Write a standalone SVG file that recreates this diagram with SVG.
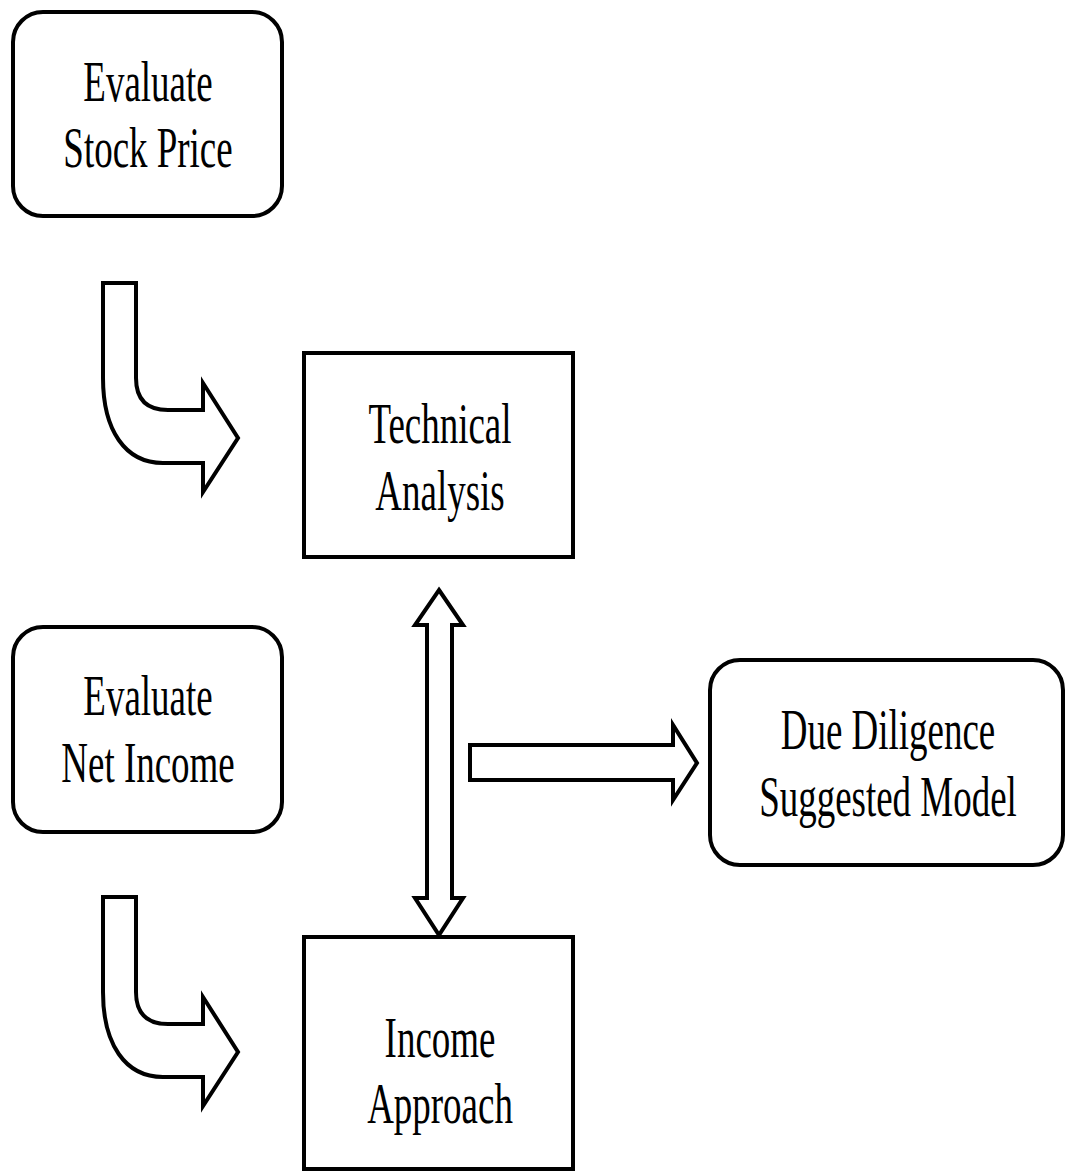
<svg xmlns="http://www.w3.org/2000/svg" width="1066" height="1171" viewBox="0 0 1066 1171">
<style>
.box{fill:#fff;stroke:#000;stroke-width:4}
.arr{fill:#fff;stroke:#000;stroke-width:4;stroke-linejoin:miter}
.t{font-size:56px;fill:#000;text-anchor:middle}
</style>
<rect width="1066" height="1171" fill="#fff"/>
<g id="connectors">
<path class="arr" d="M103,283 L136,283 L136,378 Q136,410 168,410 L203,410 L203,383 L238,438 L203,492 L203,463 L163,463 C125,463 103,430 103,378 Z"/>
<path class="arr" d="M103,897 L136,897 L136,992 Q136,1024 168,1024 L203,1024 L203,997 L238,1052 L203,1106 L203,1077 L163,1077 C125,1077 103,1044 103,992 Z"/>
<path class="arr" d="M439,590 L463,625 L452,625 L452,898 L463,898 L439,935 L415,898 L427,898 L427,625 L415,625 Z"/>
<path class="arr" d="M470,745 L673,745 L673,725 L697,763 L673,800 L673,780 L470,780 Z"/>
</g>
<g font-family="Liberation Serif, DejaVu Serif, serif">
<g id="n1">
<rect class="box" x="13" y="12" width="269" height="204" rx="30"/>
<g transform="translate(148,0) scale(0.66,1)"><text class="t" x="0" y="101">Evaluate</text><text class="t" x="0" y="167">Stock Price</text></g>
</g>
<g id="n2">
<rect class="box" x="304" y="353" width="269" height="204"/>
<g transform="translate(440,0) scale(0.66,1)"><text class="t" x="0" y="443">Technical</text><text class="t" x="0" y="510">Analysis</text></g>
</g>
<g id="n3">
<rect class="box" x="13" y="627" width="269" height="205" rx="30"/>
<g transform="translate(148,0) scale(0.66,1)"><text class="t" x="0" y="715">Evaluate</text><text class="t" x="0" y="782">Net Income</text></g>
</g>
<g id="n4">
<rect class="box" x="710" y="660" width="353" height="205" rx="30"/>
<g transform="translate(888,0) scale(0.66,1)"><text class="t" x="0" y="749">Due Diligence</text><text class="t" x="0" y="816">Suggested Model</text></g>
</g>
<g id="n5">
<rect class="box" x="304" y="937" width="269" height="232"/>
<g transform="translate(440,0) scale(0.66,1)"><text class="t" x="0" y="1057">Income</text><text class="t" x="0" y="1123">Approach</text></g>
</g>
</g>
</svg>
